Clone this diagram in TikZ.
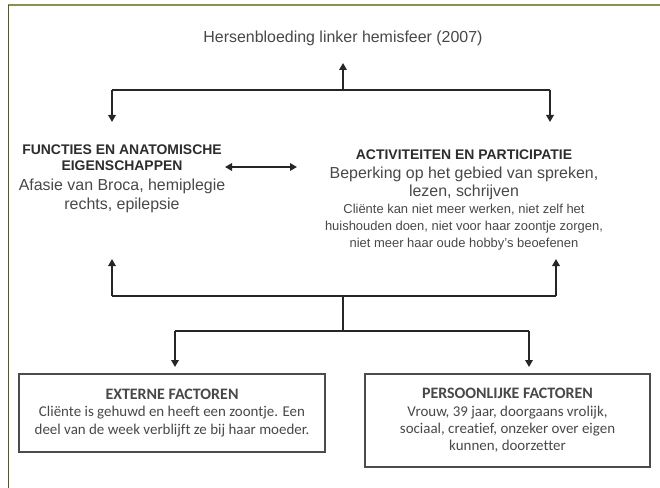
\documentclass[tikz,border=0pt]{standalone}
\usepackage{fontspec}
\setmainfont{Liberation Sans}
\newfontfamily\calib[Ligatures={NoCommon}]{Carlito}
\usetikzlibrary{arrows.meta}
\definecolor{frametop}{RGB}{138,144,80}
\definecolor{frameleft}{RGB}{80,90,26}
\definecolor{txtgray}{RGB}{72,72,72}
\definecolor{hdgray}{RGB}{45,45,45}
\begin{document}
\begin{tikzpicture}[x=1bp,y=-1bp,
  conn/.style={draw=black!85, line width=1.8bp},
  arr/.style={conn, -{Triangle[length=7bp,width=7.5bp]}},
  darr/.style={conn, {Triangle[length=7bp,width=7.5bp]}-{Triangle[length=7bp,width=7.5bp]}},
  ln/.style={anchor=base, inner sep=0pt, text=txtgray},
  hd/.style={ln, text=hdgray, font=\bfseries\fontsize{14}{16}\selectfont},
  big/.style={ln, font=\fontsize{16}{18}\selectfont},
  small/.style={ln, font=\fontsize{13}{15}\selectfont},
  fbox/.style={draw=black!70, line width=1.8bp, fill=white, align=center, inner sep=0pt, text=txtgray, font=\calib\fontsize{15}{17.5}\selectfont}]
\useasboundingbox (0,0) rectangle (660,488);
\fill[white] (0,0) rectangle (660,488);
\draw[frametop, line width=2bp] (8,5.5) -- (660,5.5);
\draw[frameleft, line width=1.5bp] (8.5,5) -- (8.5,488);

% title
\node[big] (t) at (343,43) {Hersenbloeding linker hemisfeer (2007)};

% left block: functies
\node[hd] (f1) at (122,155) {FUNCTIES EN ANATOMISCHE};
\node[hd] (f2) at (122,171) {EIGENSCHAPPEN};
\node[big] (f3) at (122,191) {Afasie van Broca, hemiplegie};
\node[big] (f4) at (122,210) {rechts, epilepsie};

% right block: activiteiten
\node[hd] (a1) at (464,160) {ACTIVITEITEN EN PARTICIPATIE};
\node[big] (a2) at (464,179) {Beperking op het gebied van spreken,};
\node[big] (a3) at (464,197) {lezen, schrijven};
\node[small] (a4) at (464,214) {Cliënte kan niet meer werken, niet zelf het};
\node[small] (a5) at (464,231) {huishouden doen, niet voor haar zoontje zorgen,};
\node[small] (a6) at (464,248) {niet meer haar oude hobby's beoefenen};

% bottom boxes
\node[fbox, minimum width=306bp, minimum height=78bp] (e) at (172,413)
  {{\bfseries\fontsize{16}{19}\selectfont EXTERNE FACTOREN}\\
   Cliënte is gehuwd en heeft een zoontje. Een\\
   deel van de week verblijft ze bij haar moeder.};
\node[fbox, minimum width=285bp, minimum height=93bp] (p) at (507.5,420.5)
  {{\bfseries\fontsize{16}{19}\selectfont PERSOONLIJKE FACTOREN}\\
   Vrouw, 39 jaar, doorgaans vrolijk,\\
   sociaal, creatief, onzeker over eigen\\
   kunnen, doorzetter};

% top connector
\coordinate (ttip) at (343,63);
\coordinate (jtop) at (343,90);
\coordinate (jl) at (112,90);
\coordinate (jr) at (550,90);
\coordinate (ftip) at (112,122);
\coordinate (atip) at (550,122);
\draw[arr] (jtop) -- (ttip);
\draw[conn] (jl) -- (jr);
\draw[arr] (jl) -- (ftip);
\draw[arr] (jr) -- (atip);

% double arrow
\coordinate (d1) at (225,167);
\coordinate (d2) at (297,167);
\draw[darr] (d1) -- (d2);

% bottom connector
\coordinate (ub) at (343,296);
\coordinate (ul) at (112,296);
\coordinate (ur) at (556,296);
\coordinate (fup) at (112,259);
\coordinate (aup) at (556,259);
\coordinate (sb) at (343,331);
\coordinate (sl) at (175,331);
\coordinate (sr) at (529,331);
\coordinate (etip) at (175,367);
\coordinate (ptip) at (529,367);
\draw[conn] (ul) -- (ur);
\draw[arr] (ul) -- (fup);
\draw[arr] (ur) -- (aup);
\draw[conn] (ub) -- (sb);
\draw[conn] (sl) -- (sr);
\draw[arr] (sl) -- (etip);
\draw[arr] (sr) -- (ptip);
\end{tikzpicture}
\end{document}
